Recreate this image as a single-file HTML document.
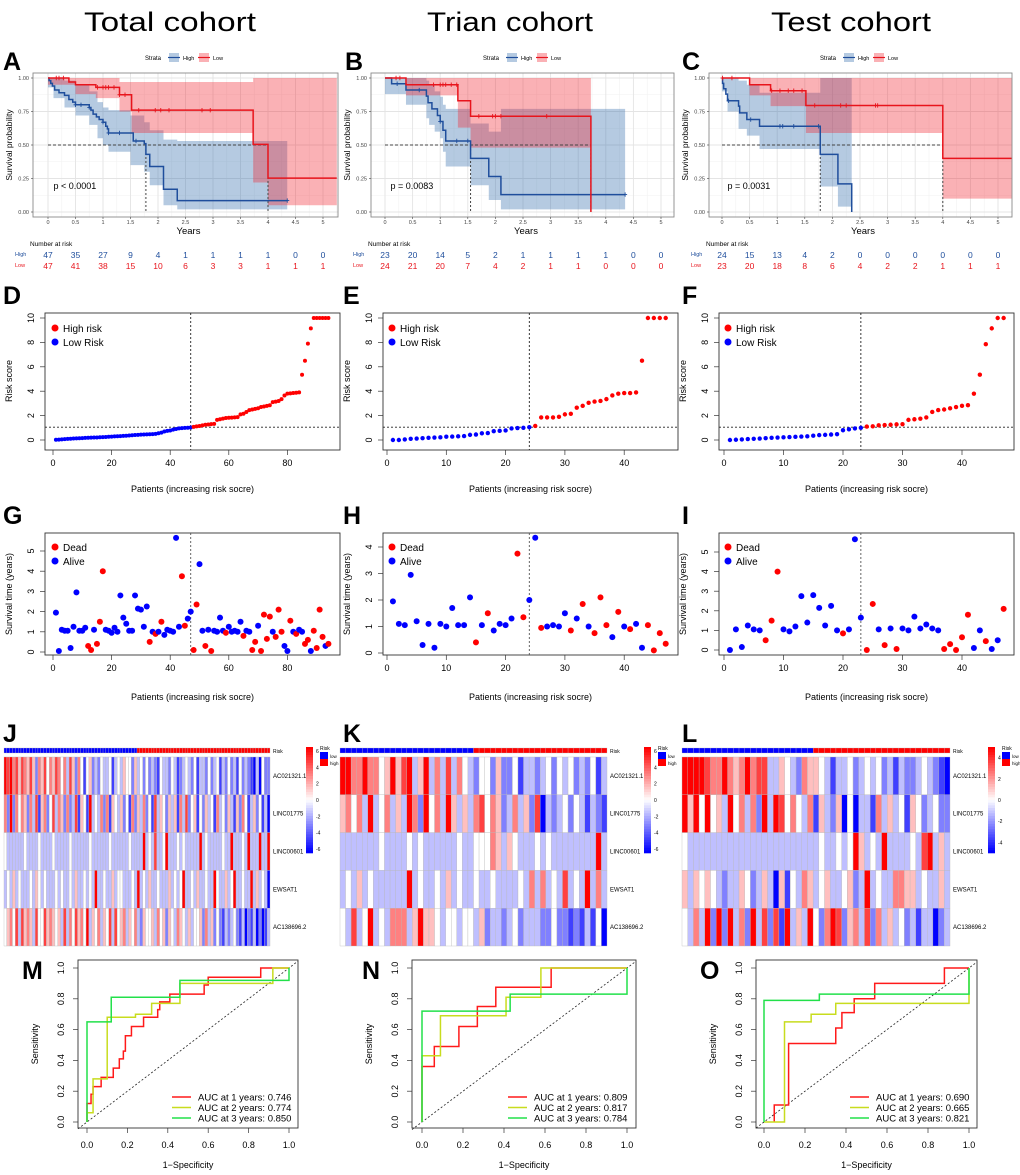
<!DOCTYPE html>
<html><head><meta charset="utf-8"><style>
html,body{margin:0;padding:0;background:#fff;}
svg{display:block;font-family:"Liberation Sans",Arial,sans-serif;}
</style></head><body>
<svg id="fig" width="1020" height="1175" viewBox="0 0 1020 1175" xmlns="http://www.w3.org/2000/svg">
<rect x="0" y="0" width="1020" height="1175" fill="#fff"/>
<text x="170" y="31" font-size="27" text-anchor="middle" textLength="172" lengthAdjust="spacingAndGlyphs">Total cohort</text>
<text x="510" y="31" font-size="27" text-anchor="middle" textLength="166" lengthAdjust="spacingAndGlyphs">Trian cohort</text>
<text x="851" y="31" font-size="27" text-anchor="middle" textLength="160" lengthAdjust="spacingAndGlyphs">Test cohort</text>
</svg>
<script>
// ---------------- DATA ----------------
// KM step data [time, survival]
const kmA_high=[[0.02,0.98],[0.05,0.96],[0.08,0.94],[0.12,0.91],[0.2,0.89],[0.3,0.87],[0.38,0.84],[0.45,0.82],[0.5,0.80],[0.75,0.78],[0.78,0.76],[0.82,0.73],[0.88,0.71],[0.93,0.69],[1.0,0.67],[1.05,0.64],[1.08,0.62],[1.1,0.59],[1.55,0.53],[1.75,0.51],[1.78,0.43],[1.85,0.34],[2.1,0.17],[2.35,0.085]];
const kmA_low=[[0.38,0.97],[0.5,0.95],[0.87,0.93],[1.3,0.875],[1.52,0.76],[3.73,0.505],[4.0,0.253]];
const ciA_high=[[0,0.93,1],[0.1,0.85,1],[0.3,0.78,0.98],[0.5,0.72,0.95],[0.75,0.65,0.9],[0.9,0.55,0.82],[1.0,0.5,0.78],[1.1,0.45,0.76],[1.5,0.35,0.72],[1.75,0.3,0.67],[1.85,0.2,0.61],[2.1,0.05,0.54],[2.35,0.02,0.53]];
const ciA_low=[[0,0.95,1],[0.5,0.88,1],[0.87,0.85,1],[1.3,0.75,0.97],[1.52,0.59,0.97],[3.73,0.22,1],[4.0,0.05,1]];
const censA_high=[0.5,0.6,0.75,1.0,1.1,1.3,1.6,4.35];
const censA_low=[0.15,0.2,0.28,0.9,1.0,1.05,1.1,1.2,1.3,1.4,1.65,1.95,2.05,2.2,2.8,2.95];
const kmB_high=[[0.12,0.957],[0.38,0.91],[0.75,0.865],[0.78,0.815],[0.85,0.77],[0.95,0.72],[1.0,0.675],[1.05,0.61],[1.1,0.53],[1.55,0.4],[1.88,0.265],[2.1,0.13]];
const kmB_low=[[0.38,0.95],[1.32,0.83],[1.55,0.715],[3.73,0]];
const ciB_high=[[0,0.88,1],[0.38,0.8,1],[0.75,0.7,0.98],[0.8,0.65,0.95],[0.9,0.6,0.9],[1.0,0.55,0.86],[1.05,0.45,0.8],[1.1,0.34,0.77],[1.55,0.2,0.66],[1.88,0.09,0.6],[2.1,0.02,0.77]];
const ciB_low=[[0,1,1],[0.38,0.87,1],[1.32,0.63,1],[1.55,0.48,1]];
const censB_high=[0.22,0.62,1.0,1.3,1.5,4.35];
const censB_low=[0.2,0.27,0.88,1.0,1.05,1.1,1.2,1.3,1.7,1.95,2.0,2.1,2.93];
const kmC_high=[[0.01,0.96],[0.03,0.92],[0.07,0.88],[0.1,0.83],[0.3,0.79],[0.32,0.74],[0.45,0.69],[0.68,0.64],[1.78,0.43],[2.1,0.21],[2.35,0]];
const kmC_low=[[0.5,0.95],[0.88,0.905],[1.52,0.795],[4.0,0.4]];
const ciC_high=[[0,0.9,1],[0.1,0.75,1],[0.3,0.62,0.98],[0.45,0.57,0.95],[0.68,0.47,0.89],[1.78,0.19,1],[2.1,0.04,1]];
const ciC_low=[[0,1,1],[0.5,0.87,1],[0.88,0.79,1],[1.52,0.59,1],[4.0,0.1,1]];
const censC_high=[0.12,0.52,1.05,1.1,1.3,1.75];
const censC_low=[0.01,0.18,0.9,1.05,1.2,1.3,1.45,1.68,2.15,2.25,2.78,2.82];
const riskA_high=[47,35,27,9,4,1,1,1,1,0,0], riskA_low=[47,41,38,15,10,6,3,3,1,1,1];
const riskB_high=[23,20,14,5,2,1,1,1,1,0,0], riskB_low=[24,21,20,7,4,2,1,1,0,0,0];
const riskC_high=[24,15,13,4,2,0,0,0,0,0,0], riskC_low=[23,20,18,8,6,4,2,2,1,1,1];
const kmTicks=[0,0.5,1,1.5,2,2.5,3,3.5,4,4.5,5];
const survTicks=[0,0.25,0.5,0.75,1];

// Risk scores
const scoreD=[0.02,0.03,0.05,0.07,0.09,0.1,0.12,0.13,0.14,0.15,0.17,0.18,0.19,0.2,0.21,0.23,0.24,0.25,0.27,0.28,0.3,0.31,0.32,0.34,0.35,0.37,0.39,0.41,0.42,0.44,0.45,0.46,0.47,0.48,0.5,0.55,0.6,0.7,0.75,0.78,0.85,0.9,0.95,0.97,0.99,1.0,1.02,
1.08,1.12,1.15,1.2,1.25,1.27,1.3,1.32,1.65,1.7,1.75,1.8,1.82,1.83,1.85,1.87,2.1,2.15,2.3,2.45,2.5,2.55,2.6,2.7,2.75,2.8,2.85,3.1,3.15,3.2,3.35,3.65,3.8,3.82,3.85,3.87,3.9,5.35,6.5,7.9,9.15,10,10,10,10,10,10];
const scoreE=[0,0,0.05,0.1,0.12,0.15,0.18,0.2,0.22,0.27,0.28,0.3,0.32,0.42,0.45,0.55,0.57,0.72,0.75,0.78,0.95,0.98,1.0,1.05,
1.15,1.85,1.85,1.85,1.9,2.1,2.15,2.65,2.8,3.05,3.15,3.2,3.35,3.65,3.8,3.85,3.85,3.9,6.5,10,10,10,10];
const scoreF=[0,0.02,0.05,0.08,0.1,0.12,0.15,0.18,0.2,0.22,0.24,0.26,0.28,0.3,0.35,0.4,0.42,0.45,0.48,0.8,0.88,0.95,1.0,
1.1,1.12,1.2,1.22,1.25,1.28,1.3,1.65,1.7,1.75,1.85,2.3,2.45,2.5,2.6,2.7,2.8,2.85,3.8,5.35,7.85,9.15,10,10];
const lowCountD=47, lowCountE=24, lowCountF=23;
const cutoffScore=1.05;

// Survival time and status (1=dead)
const timeG=[1.95,0.05,1.1,1.05,1.05,0.2,1.25,2.95,1.05,1.05,1.2,0.3,0.1,1.1,0.4,1.5,4.0,1.1,1.05,0.95,1.2,1.0,2.8,1.7,1.4,1.05,1.05,2.8,2.15,2.1,1.25,2.25,0.5,1.0,0.9,1.0,1.5,0.85,1.1,1.05,1.0,5.65,1.25,3.75,1.3,1.65,2.0,
0.1,2.35,4.35,1.05,0.3,1.1,0.05,1.05,1.0,1.7,1.05,0.95,1.25,1.0,1.05,1.0,1.5,0.8,1.05,1.0,0.1,0.5,1.3,0.05,1.85,0.65,1.75,1.0,0.75,2.1,1.0,0.3,0.05,1.55,1.0,0.9,1.1,1.0,0.4,0.6,0.05,1.05,0.2,2.1,0.75,0.3,0.4];
const deadG=[0,0,0,0,0,0,0,0,0,0,0,1,1,0,1,1,1,0,0,0,0,0,0,0,0,0,0,0,0,0,0,0,1,0,1,0,1,0,0,0,0,0,0,1,1,0,0,
1,1,0,0,1,0,1,0,0,0,0,1,0,0,0,0,0,1,0,0,1,1,0,1,1,1,1,0,1,1,1,0,0,1,0,1,0,0,1,1,0,1,1,1,1,0,1];
const timeH=[1.95,1.1,1.05,2.95,1.2,0.3,1.1,0.2,1.1,1.0,1.7,1.05,1.05,2.1,0.4,1.05,1.5,0.85,1.1,1.05,1.3,3.75,1.35,2.0,4.35,0.95,1.0,1.05,1.0,1.5,0.85,1.3,1.85,1.0,0.75,2.1,1.05,0.6,1.55,1.0,0.9,1.1,0.2,1.05,0.1,0.75,0.35];
const deadH=[0,0,0,0,0,0,0,0,0,0,0,0,0,0,1,0,1,0,0,0,0,1,1,0,0,1,0,0,0,0,1,0,1,0,1,1,1,0,1,0,1,0,0,1,1,1,1];
const timeI=[0.0,1.05,0.15,1.25,1.05,1.0,0.5,1.5,4.0,1.05,0.95,1.2,2.75,1.4,2.8,2.15,1.25,2.25,1.0,0.85,1.05,5.65,1.65,0.0,2.35,1.05,0.25,1.1,0.05,1.1,1.0,1.7,1.1,1.3,1.1,1.0,0.05,0.3,0.0,0.65,1.8,0.1,1.0,0.45,0.05,0.5,2.1];
const deadI=[0,0,0,0,0,0,1,1,1,0,0,0,0,0,0,0,0,0,0,1,0,0,0,1,1,0,1,0,1,0,0,0,0,0,0,0,1,1,1,1,1,0,0,1,0,0,1];

// Heatmap rows (char code: value = (digit-4)*1.5)
const genes=['AC021321.1','LINC01775','LINC00601','EWSAT1','AC138696.2'];
const heatJ=['8786757657526574657646375264145232433413435442534242321433243123432413324234132423142321030422',
'6282646526371562473652623715418343626154352416253624173542535163724514253416342531526413524130',
'4333333433334333343333343333334333333433333343333834373348333434333338343333343383334383338338',
'3435343334354343334343343533434383343353443334383435334333534348334353343384335348334338353430',
'4564737565374475654537364756483546354737456354632544536452543654353445263524213234213021302013'];
const heatK=['886686645857835836373643244252241332342434232413',
'564638346353862846385353674652363527032342431321',
'333333343333434333333433444653543334343333333383',
'343534333333834334353433433433334363634373438363',
'437348343666358554344344352332342333224221213140'];
const heatL=['88887668656867733543265543133423434231322343210',
'85848453846362838746436153250403316353415423422',
'43333333333333333333333343343485343833334378353',
'53545432335423530514365345334523834336655343353',
'43638282836283727183538426872563726353423133023'];

// ROC steps
const rocM_red_x=[0,0,0.02,0.02,0.03,0.03,0.07,0.07,0.13,0.13,0.16,0.16,0.18,0.18,0.19,0.19,0.22,0.22,0.28,0.28,0.35,0.35,0.36,0.36,0.41,0.41,0.58,0.58,0.6,0.6,0.86,0.86,1];
const rocM_red_y=[0,0.12,0.12,0.18,0.18,0.23,0.23,0.29,0.29,0.35,0.35,0.41,0.41,0.46,0.46,0.56,0.56,0.62,0.62,0.68,0.68,0.73,0.73,0.78,0.78,0.83,0.83,0.89,0.89,0.94,0.94,1,1];
const rocM_yel_x=[0,0,0.03,0.03,0.1,0.1,0.24,0.24,0.32,0.32,0.46,0.46,0.92,0.92,1];
const rocM_yel_y=[0,0.06,0.06,0.28,0.28,0.68,0.68,0.7,0.7,0.77,0.77,0.9,0.9,1,1];
const rocM_grn_x=[0,0,0.12,0.12,0.46,0.46,1,1];
const rocM_grn_y=[0,0.65,0.65,0.81,0.81,0.92,0.92,1];
const rocN_red_x=[0,0,0.06,0.06,0.18,0.18,0.27,0.27,0.36,0.36,0.63,0.63,1];
const rocN_red_y=[0,0.36,0.36,0.49,0.49,0.62,0.62,0.75,0.75,0.875,0.875,1,1];
const rocN_yel_x=[0,0,0.09,0.09,0.41,0.41,0.58,0.58,1];
const rocN_yel_y=[0,0.43,0.43,0.69,0.69,0.81,0.81,1,1];
const rocN_grn_x=[0,0,0.43,0.43,1,1];
const rocN_grn_y=[0,0.72,0.72,0.83,0.83,1];
const rocO_red_x=[0.05,0.05,0.12,0.12,0.35,0.35,0.38,0.38,0.44,0.44,0.54,0.54,0.88,0.88,1];
const rocO_red_y=[0,0.11,0.11,0.51,0.51,0.61,0.61,0.71,0.71,0.8,0.8,0.9,0.9,1,1];
const rocO_yel_x=[0,0.1,0.1,0.23,0.23,0.35,0.35,1,1];
const rocO_yel_y=[0,0,0.65,0.65,0.7,0.7,0.77,0.77,1];
const rocO_grn_x=[0,0,0.27,0.27,1,1];
const rocO_grn_y=[0,0.79,0.79,0.83,0.83,1];
const aucM=['0.746','0.774','0.850'], aucN=['0.809','0.817','0.784'], aucO=['0.690','0.665','0.821'];
const rocTicks=[0,0.2,0.4,0.6,0.8,1.0];

// ---------------- DRAWING ----------------
const NS='http://www.w3.org/2000/svg';
const svg=document.getElementById('fig');
function mk(tag,at,par){const e=document.createElementNS(NS,tag);for(const k in at)e.setAttribute(k,at[k]);(par||svg).appendChild(e);return e;}
function tx(s,x,y,sz,at,par){const e=mk('text',Object.assign({x:x,y:y,'font-size':sz},at||{}),par);e.textContent=s;return e;}
function rtx(s,x,y,sz,at,par){return tx(s,x,y,sz,Object.assign({'text-anchor':'middle',transform:'rotate(-90 '+x+' '+y+')'},at||{}),par);}
function letter(s,x,y){const e=tx(s,x,y,25,{'font-weight':'bold'});

}

const BLUE='#1f4e9c', RED='#e8141c';

function drawKM(c){
  const g=mk('g',{});
  
  
  const X=t=>c.ox+t*c.sx, Y=s=>212-s*134;
  mk('rect',{x:c.L,y:73,width:c.R-c.L,height:144,fill:'#fff'},g);
  for(let t=0.25;X(t)<c.R;t+=0.5) mk('line',{x1:X(t),x2:X(t),y1:73,y2:217,stroke:'#f2f2f2','stroke-width':0.6},g);
  for(let s=0.125;s<1.1;s+=0.25) mk('line',{x1:c.L,x2:c.R,y1:Y(s),y2:Y(s),stroke:'#f2f2f2','stroke-width':0.6},g);
  kmTicks.forEach(t=>mk('line',{x1:X(t),x2:X(t),y1:73,y2:217,stroke:'#e4e4e4','stroke-width':0.9},g));
  survTicks.forEach(s=>mk('line',{x1:c.L,x2:c.R,y1:Y(s),y2:Y(s),stroke:'#e4e4e4','stroke-width':0.9},g));
  function band(b,end,col,nm){
    let up=[],lo=[];
    for(let i=0;i<b.length;i++){const x1=X(b[i][0]),x2=X(i+1<b.length?b[i+1][0]:end);
      up.push(x1+','+Y(b[i][2]),x2+','+Y(b[i][2]));lo.unshift(x2+','+Y(b[i][1]),x1+','+Y(b[i][1]));}
    const p=mk('polygon',{points:up.concat(lo).join(' '),fill:col,'fill-opacity':0.35},g);
    
    
  }
  band(c.ciH,c.endH,'#2a66a8',c.name+'-ci-high');
  band(c.ciL,c.endL,'#f0202c',c.name+'-ci-low');
  const meds=c.meds, mx=Math.max(...meds);
  mk('line',{x1:X(0),x2:X(mx),y1:Y(0.5),y2:Y(0.5),stroke:'#444','stroke-dasharray':'3,2','stroke-width':1},g);
  meds.forEach(m=>mk('line',{x1:X(m),x2:X(m),y1:Y(0.5),y2:Y(0),stroke:'#444','stroke-dasharray':'2,2','stroke-width':1},g));
  function curve(st,end,col,cens,nm){
    let d='M'+X(0)+','+Y(1);
    st.forEach(p=>{d+='H'+X(p[0])+'V'+Y(p[1]);});
    d+='H'+X(end);
    const p=mk('path',{d:d,fill:'none',stroke:col,'stroke-width':1.5},g);
    
    
    const sv=t=>{let s=1;st.forEach(q=>{if(q[0]<=t)s=q[1];});return s;};
    let cd='';cens.forEach(t=>{const x=X(t),y=Y(sv(t));cd+='M'+(x-2)+','+y+'H'+(x+2)+'M'+x+','+(y-2.2)+'V'+(y+2.2);});
    mk('path',{d:cd,stroke:col,'stroke-width':0.9,fill:'none'},g);
  }
  curve(c.kmH,c.endH,BLUE,c.cH,c.name+'-curve-high');
  curve(c.kmL,c.endL,RED,c.cL,c.name+'-curve-low');
  mk('rect',{x:c.L,y:73,width:c.R-c.L,height:144,fill:'none',stroke:'#8a8a8a','stroke-width':0.9},g);
  survTicks.forEach(s=>{tx(s.toFixed(2),c.L-4,Y(s)+2,5.5,{'text-anchor':'end',fill:'#444'},g);
    mk('line',{x1:c.L-2,x2:c.L,y1:Y(s),y2:Y(s),stroke:'#444','stroke-width':0.6},g);});
  kmTicks.forEach(t=>{tx(String(t),X(t),224,5.5,{'text-anchor':'middle',fill:'#444'},g);
    mk('line',{x1:X(t),x2:X(t),y1:217,y2:219,stroke:'#444','stroke-width':0.6},g);});
  rtx('Survival probability',c.L-21,145,8.5,{},g);
  tx('Years',c.ox+2.5*c.sx+3,234,9.5,{'text-anchor':'middle'},g);
  tx(c.p,X(0.1),189,9,{},g);
  // strata legend
  const sx0=c.leg;
  tx('Strata',sx0,60,6,{},g);
  mk('rect',{x:sx0+24,y:53,width:10,height:9,fill:'#2a66a8','fill-opacity':0.35},g);
  mk('line',{x1:sx0+23,x2:sx0+35,y1:57.5,y2:57.5,stroke:BLUE,'stroke-width':1.2},g);
  tx('High',sx0+38,60,5.5,{},g);
  mk('rect',{x:sx0+54,y:53,width:10,height:9,fill:'#f0202c','fill-opacity':0.35},g);
  mk('line',{x1:sx0+53,x2:sx0+65,y1:57.5,y2:57.5,stroke:RED,'stroke-width':1.2},g);
  tx('Low',sx0+68,60,5.5,{},g);
  // risk table
  tx('Number at risk',c.L-3,246,6.5,{},g);
  tx('High',c.L-18,256,5.5,{fill:BLUE},g);
  tx('Low',c.L-18,267,5.5,{fill:RED},g);
  c.rH.forEach((v,i)=>{const e=tx(String(v),X(i*0.5),258,8.5,{'text-anchor':'middle',fill:BLUE},g);
    
    });
  c.rL.forEach((v,i)=>{const e=tx(String(v),X(i*0.5),269,8.5,{'text-anchor':'middle',fill:RED},g);
    
    });
}
drawKM({name:'km-total',ox:48,sx:55,L:33,R:338,kmH:kmA_high,kmL:kmA_low,ciH:ciA_high,ciL:ciA_low,cH:censA_high,cL:censA_low,endH:4.35,endL:5.25,meds:[1.78,4.0],p:'p < 0.0001',leg:145,rH:riskA_high,rL:riskA_low});
drawKM({name:'km-train',ox:385,sx:55.2,L:371,R:674,kmH:kmB_high,kmL:kmB_low,ciH:ciB_high,ciL:ciB_low,cH:censB_high,cL:censB_low,endH:4.35,endL:3.73,meds:[1.55,3.73],p:'p = 0.0083',leg:483,rH:riskB_high,rL:riskB_low});
drawKM({name:'km-test',ox:722,sx:55.2,L:709,R:1012,kmH:kmC_high,kmL:kmC_low,ciH:ciC_high,ciL:ciC_low,cH:censC_high,cL:censC_low,endH:2.35,endL:5.25,meds:[1.78,4.0],p:'p = 0.0031',leg:820,rH:riskC_high,rL:riskC_low});
letter('A',3,70);letter('B',345,70);letter('C',682,70);

// risk score plots
function baseAxes(g,c,T,B,Y,yt,xt,X){
  mk('rect',{x:c.L,y:T,width:c.R-c.L,height:B-T,fill:'none',stroke:'#333','stroke-width':0.9},g);
  yt.forEach(v=>{mk('line',{x1:c.L-5,x2:c.L,y1:Y(v),y2:Y(v),stroke:'#333','stroke-width':0.7},g);
    rtx(String(v),c.L-11,Y(v),9,{},g);});
  xt.forEach(v=>{mk('line',{x1:X(v),x2:X(v),y1:B,y2:B+5,stroke:'#333','stroke-width':0.7},g);
    tx(String(v),X(v),B+16,9,{'text-anchor':'middle'},g);});
}
function drawScore(c){
  const g=mk('g',{});
  
  
  const X=i=>c.ox+i*c.sx, Y=v=>440-v*12.2;
  baseAxes(g,c,313,450,Y,[0,2,4,6,8,10],c.xt,X);
  mk('line',{x1:c.L,x2:c.R,y1:Y(cutoffScore),y2:Y(cutoffScore),stroke:'#222','stroke-dasharray':'2,2','stroke-width':0.9},g);
  mk('line',{x1:X(c.low+0.5)-c.sx*0.5,x2:X(c.low+0.5)-c.sx*0.5,y1:313,y2:450,stroke:'#222','stroke-dasharray':'2,2','stroke-width':0.9},g);
  c.data.forEach((v,i)=>{const d=mk('circle',{cx:X(i+1),cy:Y(v),r:c.r,fill:i<c.low?'#0000ff':'#ff0000'},g);
    
    });
  rtx('Risk score',c.L-33,381,9,{},g);
  tx('Patients (increasing risk socre)',(c.L+c.R)/2,492,9,{'text-anchor':'middle'},g);
  mk('circle',{cx:c.lx,cy:328,r:3.5,fill:'#ff0000'},g);tx('High risk',c.lx+8,332,10,{},g);
  mk('circle',{cx:c.lx,cy:342,r:3.5,fill:'#0000ff'},g);tx('Low Risk',c.lx+8,346,10,{},g);
}
drawScore({name:'risk-total',L:45,R:340,ox:53,sx:2.93,data:scoreD,low:lowCountD,xt:[0,20,40,60,80],r:2,lx:55});
drawScore({name:'risk-train',L:383,R:678,ox:387,sx:5.93,data:scoreE,low:lowCountE,xt:[0,10,20,30,40],r:2.2,lx:392});
drawScore({name:'risk-test',L:719,R:1014,ox:724,sx:5.95,data:scoreF,low:lowCountF,xt:[0,10,20,30,40],r:2.2,lx:728});
letter('D',3,304);letter('E',343,304);letter('F',682,304);

function drawSurv(c){
  const g=mk('g',{});
  
  
  const X=i=>c.ox+i*c.sx, Y=v=>c.y0-v*c.sy;
  baseAxes(g,c,533,655,Y,c.yt,c.xt,X);
  mk('line',{x1:X(c.low+0.5)-c.sx*0.5,x2:X(c.low+0.5)-c.sx*0.5,y1:533,y2:655,stroke:'#555','stroke-dasharray':'2,2','stroke-width':0.9},g);
  c.t.forEach((v,i)=>{const d=mk('circle',{cx:X(i+1),cy:Y(v),r:3,fill:c.s[i]?'#ff0000':'#0000ff'},g);
    
    });
  rtx('Survival time (years)',c.L-33,594,9,{},g);
  tx('Patients (increasing risk socre)',(c.L+c.R)/2,700,9,{'text-anchor':'middle'},g);
  mk('circle',{cx:c.lx,cy:547,r:3.5,fill:'#ff0000'},g);tx('Dead',c.lx+8,551,10,{},g);
  mk('circle',{cx:c.lx,cy:561,r:3.5,fill:'#0000ff'},g);tx('Alive',c.lx+8,565,10,{},g);
}
drawSurv({name:'survival-total',L:45,R:340,ox:53,sx:2.93,y0:652,sy:20.2,t:timeG,s:deadG,low:lowCountD,yt:[0,1,2,3,4,5],xt:[0,20,40,60,80],lx:55});
drawSurv({name:'survival-train',L:383,R:678,ox:387,sx:5.93,y0:653,sy:26.5,t:timeH,s:deadH,low:lowCountE,yt:[0,1,2,3,4],xt:[0,10,20,30,40],lx:392});
drawSurv({name:'survival-test',L:719,R:1014,ox:724,sx:5.95,y0:650,sy:19.6,t:timeI,s:deadI,low:lowCountF,yt:[0,1,2,3,4,5],xt:[0,10,20,30,40],lx:728});
letter('G',3,524);letter('H',343,524);letter('I',682,524);

// heatmaps
function heatColor(v){const f=Math.min(1,Math.abs(v)/6);const c=Math.round(255*(1-f));
  return v>=0?'rgb(255,'+c+','+c+')':'rgb('+c+','+c+',255)';}
function drawHeat(c){
  const g=mk('g',{});
  
  
  const n=c.rows[0].length, w=(c.x1-c.x0)/n, top=757, rh=(946-top)/5;
  for(let i=0;i<n;i++){const r=mk('rect',{x:c.x0+i*w,y:748,width:w,height:5,fill:i<c.low?'#0000ff':'#ff0000',stroke:'#bbb','stroke-width':0.3},g);
    
    }
  tx('Risk',c.x1+3,753,5,{},g);
  c.rows.forEach((row,j)=>{
    for(let i=0;i<row.length;i++){const v=(row.charCodeAt(i)-52)*1.5;
      const r=mk('rect',{x:c.x0+i*(c.x1-c.x0)/row.length,y:top+j*rh,width:(c.x1-c.x0)/row.length,height:rh,fill:heatColor(v),stroke:'#b8b8b8','stroke-width':0.35},g);
      
      }
    tx(genes[j],c.x1+3,top+j*rh+rh/2+2,6,{},g);
  });
  // colour bar
  const cb=c.cb, steps=40;
  for(let k=0;k<steps;k++){const v=c.cmax-(2*c.cmax)*k/(steps-1);
    mk('rect',{x:cb,y:747+k*106/steps,width:7,height:106/steps+0.3,fill:heatColor(v*6/c.cmax)},g);}
  c.cticks.forEach(v=>tx(String(v),cb+10,747+106*(c.cmax-v)/(2*c.cmax)+2,5,{},g));
  tx('Risk',cb+14,750,5,{},g);
  mk('rect',{x:cb+14,y:752,width:8,height:7,fill:'#0000ff'},g);tx('low',cb+24,758,4.5,{},g);
  mk('rect',{x:cb+14,y:759,width:8,height:7,fill:'#ff0000'},g);tx('high',cb+24,765,4.5,{},g);
}
drawHeat({name:'heatmap-total',x0:4,x1:270,rows:heatJ,low:lowCountD,cb:306,cmax:6.5,cticks:[6,4,2,0,-2,-4,-6]});
drawHeat({name:'heatmap-train',x0:340,x1:607,rows:heatK,low:lowCountE,cb:644,cmax:6.5,cticks:[6,4,2,0,-2,-4,-6]});
drawHeat({name:'heatmap-test',x0:682,x1:950,rows:heatL,low:lowCountF,cb:988,cmax:5,cticks:[4,2,0,-2,-4]});
letter('J',3,742);letter('K',343,742);letter('L',682,742);

// ROC
function drawROC(c){
  const g=mk('g',{});
  
  
  const X=v=>c.x0+v*(c.x1-c.x0), Y=v=>1122-v*154;
  baseAxes(g,{L:c.L,R:c.R},960,1128,Y,[],[],X);
  rocTicks.forEach(v=>{mk('line',{x1:c.L-5,x2:c.L,y1:Y(v),y2:Y(v),stroke:'#333','stroke-width':0.7},g);
    rtx(v.toFixed(1),c.L-14,Y(v),9,{},g);
    mk('line',{x1:X(v),x2:X(v),y1:1128,y2:1133,stroke:'#333','stroke-width':0.7},g);
    tx(v.toFixed(1),X(v),1148,9,{'text-anchor':'middle'},g);});
  mk('line',{x1:c.L,x2:c.R,y1:Y((c.L-c.x0)/(c.x1-c.x0)),y2:Y((c.R-c.x0)/(c.x1-c.x0)),stroke:'#222','stroke-dasharray':'2,2','stroke-width':0.8},g);
  const cols=['#ff1a1a','#c8dc1e','#22e04a'];
  c.curves.forEach((cv,k)=>{const pts=cv[0].map((x,i)=>X(x)+','+Y(cv[1][i])).join(' ');
    const p=mk('polyline',{points:pts,fill:'none',stroke:cols[k],'stroke-width':1.5},g);
    
    });
  rtx('Sensitivity',c.L-40,1044,9,{},g);
  tx('1\u2212Specificity',(c.L+c.R)/2,1168,9,{'text-anchor':'middle'},g);
  c.auc.forEach((a,k)=>{const y=1097+k*10.5;
    mk('line',{x1:c.lg,x2:c.lg+19,y1:y,y2:y,stroke:cols[k],'stroke-width':1.5},g);
    tx('AUC at '+(k+1)+' years: '+a,c.lg+26,y+3.5,9.5,{},g);});
}
drawROC({name:'roc-total',L:78,R:298,x0:87,x1:289,curves:[[rocM_red_x,rocM_red_y],[rocM_yel_x,rocM_yel_y],[rocM_grn_x,rocM_grn_y]],auc:aucM,lg:172});
drawROC({name:'roc-train',L:412,R:636,x0:422,x1:627,curves:[[rocN_red_x,rocN_red_y],[rocN_yel_x,rocN_yel_y],[rocN_grn_x,rocN_grn_y]],auc:aucN,lg:508});
drawROC({name:'roc-test',L:756,R:977,x0:764,x1:969,curves:[[rocO_red_x,rocO_red_y],[rocO_yel_x,rocO_yel_y],[rocO_grn_x,rocO_grn_y]],auc:aucO,lg:850});
letter('M',22,979);letter('N',362,979);letter('O',700,979);
</script>
</body></html>
